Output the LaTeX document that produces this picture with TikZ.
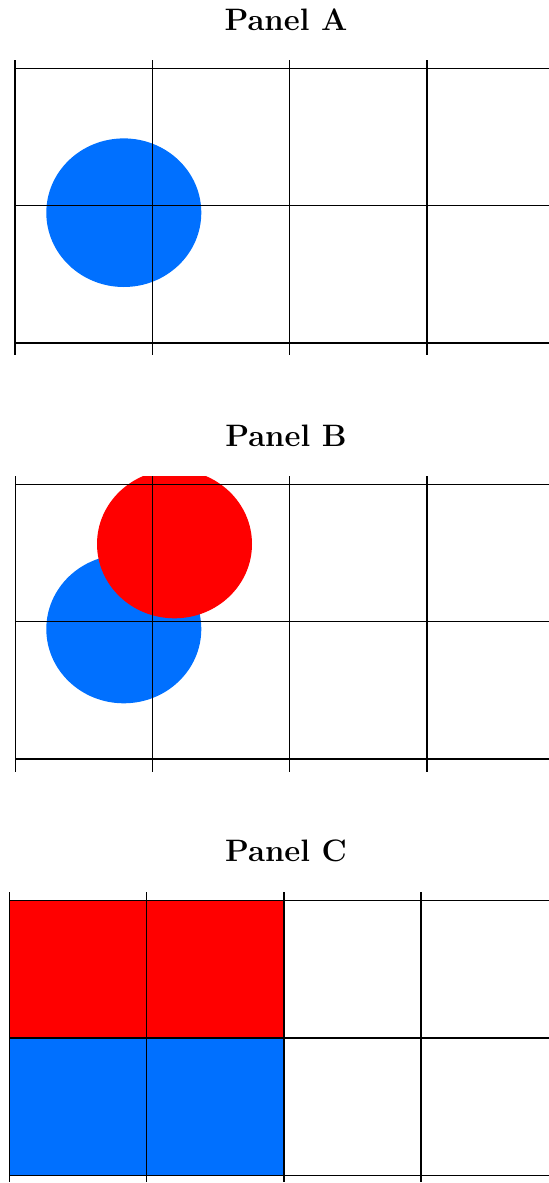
\documentclass[tikz,border=0pt]{standalone}
\definecolor{panelblue}{RGB}{0,112,255}
\definecolor{panelred}{RGB}{255,0,0}
\tikzset{
  paneltitle/.style={font=\fontsize{15.5}{18}\selectfont\bfseries},
  gridline/.style={draw=black, line width=0.75pt},
}
\begin{document}
\begin{tikzpicture}[x=0.5pt,y=-0.5pt]
        \useasboundingbox (0,0) rectangle (549,1183);
        \clip (0,0) rectangle (549,1183);
        % Panel A
        \node[paneltitle] (titleA) at (286,20) {Panel A};
        \begin{scope}[shift={(15,68.3)}]
            \fill[panelblue] (108.8,144.4) ellipse [x radius=77.5, y radius=74.3];
            \foreach \i in {0,...,3}
                \draw[gridline] (\i*137.3,-8.3) -- (\i*137.3,286.7);
            \foreach \j in {0,1,2}
                \draw[gridline] (0,\j*137.3) -- (540,\j*137.3);
        \end{scope}
        % Panel B
        \node[paneltitle] (titleB) at (286,435.5) {Panel B};
        \begin{scope}[shift={(15,484.3)}]
            \clip (0,-8.3) rectangle (540,287.5);
            \fill[panelblue] (108.8,144.7) ellipse [x radius=77.5, y radius=74.3];
            \fill[panelred] (159.5,59.7) ellipse [x radius=77.5, y radius=74.3];
            \foreach \i in {0,...,3}
                \draw[gridline] (\i*137.3,-8.3) -- (\i*137.3,287.4);
            \foreach \j in {0,1,2}
                \draw[gridline] (0,\j*137.3) -- (540,\j*137.3);
        \end{scope}
        % Panel C
        \node[paneltitle] (titleC) at (286,851) {Panel C};
        \begin{scope}[shift={(9.3,900.7)}]
            \filldraw[gridline, fill=panelred] (0,0) rectangle (274.6,137.3);
            \filldraw[gridline, fill=panelblue] (0,137.3) rectangle (274.6,274.6);
            \foreach \i in {0,...,3}
                \draw[gridline] (\i*137.3,-8.4) -- (\i*137.3,281);
            \foreach \j in {0,1,2}
                \draw[gridline] (0,\j*137.3) -- (545,\j*137.3);
        \end{scope}
    \end{tikzpicture}
\end{document}
